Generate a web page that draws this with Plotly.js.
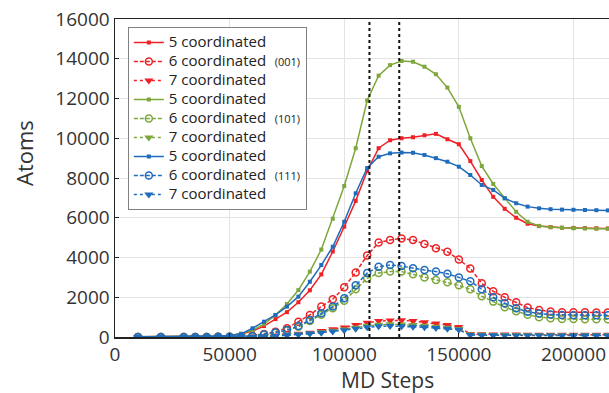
<!DOCTYPE html>
<html><head><meta charset="utf-8">
<script src="https://cdn.plot.ly/plotly-3.0.1.min.js"></script>
<style>html,body{margin:0;padding:0;background:#fff}#chart{width:609px;height:393px}</style>
</head><body><div id="chart"></div>
<script>
const steps = [10000,20000,30000,35000,40000,45000,50000,55000,60000,65000,70000,75000,80000,85000,90000,95000,100000,105000,110000,115000,120000,125000,130000,135000,140000,145000,150000,155000,160000,165000,170000,175000,180000,185000,190000,195000,200000,205000,210000,215000];

const red5 = [10,15,20,25,35,50,80,150,300,550,900,1250,1750,2350,3150,4300,5550,6850,8350,9500,9900,10000,10050,10150,10220,9950,9700,8850,7900,7050,6450,6000,5700,5580,5530,5500,5490,5480,5470,5460];
const red6 = [0,0,0,5,5,10,15,30,60,150,270,440,770,1110,1530,1900,2500,3250,4100,4750,4880,4960,4880,4680,4470,4290,3900,3450,2700,2300,2000,1750,1480,1360,1280,1250,1240,1240,1230,1230];
const red7 = [0,0,0,0,0,5,5,10,20,40,70,110,160,220,300,390,480,600,720,800,830,840,800,740,680,600,500,150,140,130,120,120,110,110,110,110,110,110,110,110];

const green5 = [10,15,20,25,35,50,80,160,350,650,1100,1660,2360,3290,4400,5950,7600,9500,11900,13150,13680,13890,13850,13600,13220,12550,11580,10000,8600,7700,6980,6300,5800,5590,5520,5490,5470,5460,5450,5450];
const green6 = [0,0,0,5,5,10,15,25,40,110,210,330,520,800,1120,1450,1820,2400,2950,3220,3290,3290,3160,3000,2870,2760,2600,2400,2050,1780,1500,1300,1120,1000,940,910,900,890,890,890];
const green7 = [0,0,0,0,0,5,5,10,15,30,55,90,130,180,240,310,380,470,560,620,640,630,600,560,510,460,400,120,110,100,100,95,90,90,90,90,90,90,90,90];

const blue5 = [10,15,20,25,35,50,80,160,440,770,1110,1530,2030,2780,3620,4540,5800,7230,8500,9070,9240,9280,9270,9160,9000,8820,8570,8150,7650,7400,6980,6730,6560,6475,6430,6410,6400,6390,6380,6370];
const blue6 = [0,0,0,5,5,10,15,25,40,120,230,350,550,855,1190,1530,1950,2600,3220,3540,3620,3570,3460,3370,3290,3180,3000,2800,2400,2000,1700,1450,1270,1180,1130,1110,1100,1100,1100,1100];
const blue7 = [0,0,0,0,0,5,5,10,15,30,50,80,120,170,220,280,340,420,490,540,550,540,520,490,450,410,360,100,90,85,80,80,80,80,80,80,80,80,80,80];

const seriesNames = ['5 coordinated','6 coordinated','7 coordinated'];
const surfaces = ['(001)','(101)','(111)'];
const markerSteps = [111000, 124000];
const xTickVals = [0,50000,100000,150000,200000];
const yTickVals = [0,2000,4000,6000,8000,10000,12000,14000,16000];

const colors = ['#ee2226','#7ea73b','#1f6cbc'];
const groups = [[red5,red6,red7],[green5,green6,green7],[blue5,blue6,blue7]];
const styles = [
  {dash:'solid', symbol:'square', size:4, lw:0},
  {dash:'4px,2px', symbol:'circle-open', size:7, lw:1.5},
  {dash:'dot', symbol:'triangle-down', size:8, lw:0}
];

const traces = [];
groups.forEach((g, gi) => {
  g.forEach((vals, si) => {
    const st = styles[si];
    let label = '<span style="font-size:15px">' + seriesNames[si] + '</span>';
    if (si === 1) label += '<span style="font-size:11px">\u00a0\u00a0\u00a0' + surfaces[gi] + '</span>';
    traces.push({
      x: steps, y: vals, type: 'scatter', mode: 'lines+markers',
      name: label,
      line: {color: colors[gi], width: 1.5, dash: st.dash},
      marker: {symbol: st.symbol, size: st.size, color: colors[gi], line: {color: colors[gi], width: st.lw}}
    });
  });
});

const shapes = markerSteps.map(s => ({
  type: 'line', xref: 'x', yref: 'paper', x0: s, x1: s, y0: 0, y1: 1,
  line: {color: '#111', width: 2, dash: 'dot'}
}));

const layout = {
  width: 609, height: 393,
  margin: {l: 115, r: 0, t: 19, b: 56},
  paper_bgcolor: '#fff', plot_bgcolor: '#fff',
  font: {family: 'Open Sans, sans-serif', color: '#333'},
  showlegend: true,
  legend: {
    x: 0.026, y: 0.975, xanchor: 'left', yanchor: 'top',
    bgcolor: '#fff', bordercolor: '#808080', borderwidth: 1,
    font: {size: 12, color: '#222'}, tracegroupgap: 0
  },
  xaxis: {
    range: [0, 215500], tickvals: xTickVals, tickformat: 'd',
    ticklabeloverflow: 'allow',
    showgrid: true, gridcolor: '#e4e4e4', gridwidth: 1,
    showline: true, linecolor: '#222', linewidth: 1.5, mirror: true,
    ticks: 'inside', ticklen: 4, tickcolor: '#222',
    tickfont: {size: 19, color: '#333'}, zeroline: false
  },
  yaxis: {
    range: [0, 16000], tickvals: yTickVals, tickformat: 'd',
    showgrid: true, gridcolor: '#e4e4e4', gridwidth: 1,
    showline: true, linecolor: '#222', linewidth: 1.5,
    ticks: 'inside', ticklen: 4, tickcolor: '#222',
    tickfont: {size: 19, color: '#333'}, zeroline: false
  },
  shapes: shapes,
  annotations: [
    {text: 'Atoms', xref: 'paper', yref: 'paper', x: -0.184, y: 0.579, textangle: -90,
     showarrow: false, font: {size: 22, color: '#333'}, xanchor: 'center', yanchor: 'middle'},
    {text: 'MD Steps', xref: 'paper', yref: 'paper', x: 0.551, y: -0.135,
     showarrow: false, font: {size: 21, color: '#333'}, xanchor: 'center', yanchor: 'middle'}
  ]
};

Plotly.newPlot('chart', traces, layout, {displayModeBar: false, staticPlot: true});
</script>
</body></html>
